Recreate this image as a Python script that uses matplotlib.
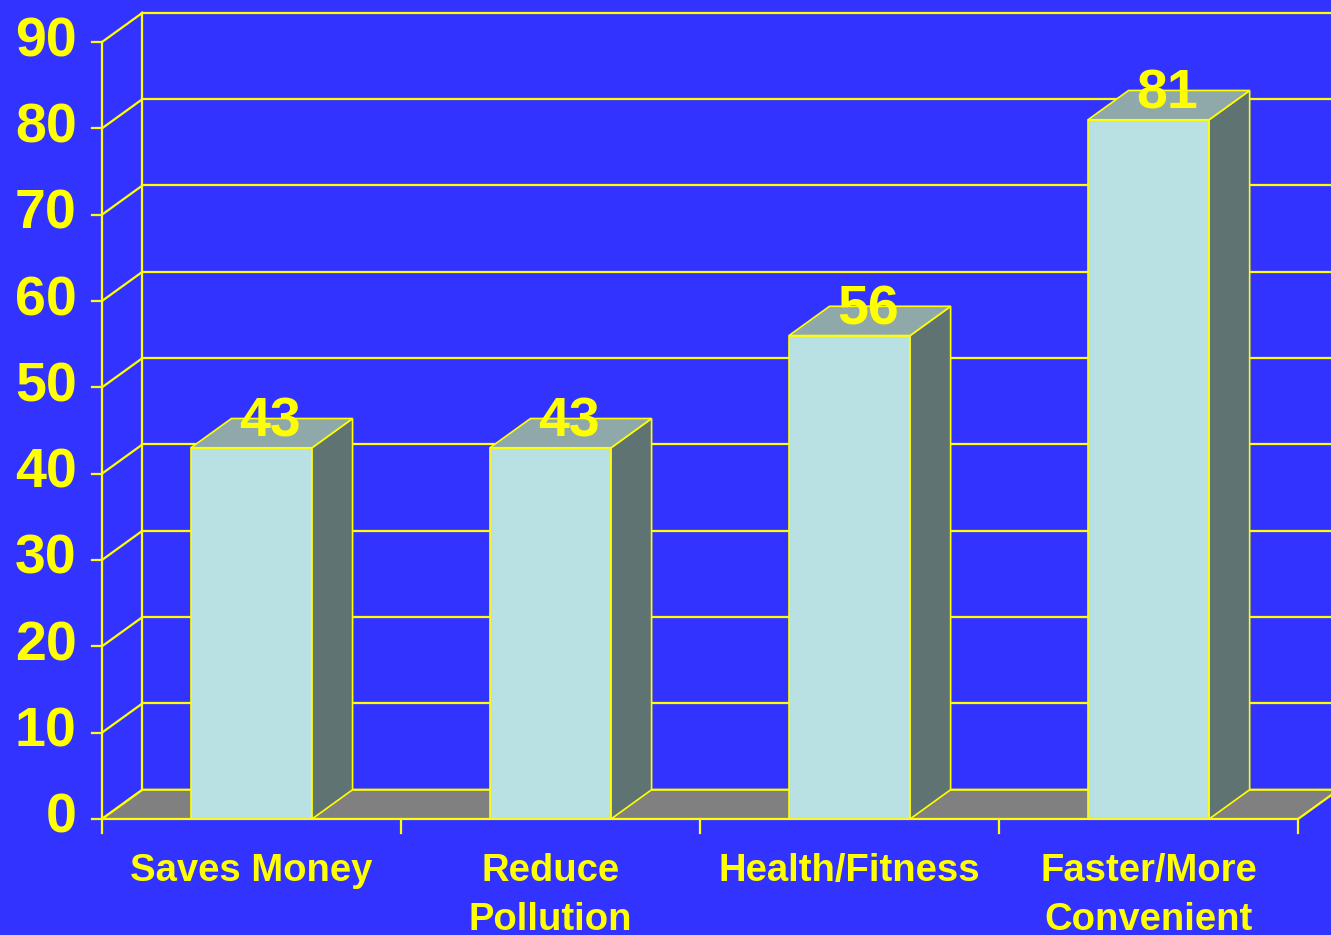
import matplotlib
matplotlib.use("Agg")
import matplotlib.pyplot as plt
from matplotlib.patches import Polygon

# Survey data
categories = ["Saves Money", "Reduce\nPollution", "Health/Fitness", "Faster/More\nConvenient"]
values = [43, 43, 56, 81]
y_ticks = [0, 10, 20, 30, 40, 50, 60, 70, 80, 90]

BG = "#3333FF"
YELLOW = "#FFFF00"
FRONT = "#B9E0E3"
SIDE = "#5F7373"
TOP = "#8FA9AB"
FLOOR = "#808080"
FONT = "Liberation Sans"

fig = plt.figure(figsize=(13.31, 9.35), dpi=100, facecolor=BG)
ax = fig.add_axes([0, 0, 1, 1])
ax.set_facecolor(BG)
ax.set_xlim(-0.341, 4.110)
ax.set_ylim(-13.44, 94.87)
ax.axis("off")

n = len(categories)
ymax = y_ticks[-1]
dx = 0.1355          # depth offset (category units)
dy = 3.39            # depth offset (value units)
bw = 0.405           # bar width
lw = 1.6

# back wall and left wall grid
for v in y_ticks:
    if v > 0:
        ax.plot([dx, 4.3], [v + dy, v + dy], color=YELLOW, lw=lw, zorder=1)
    ax.plot([0, dx], [v, v + dy], color=YELLOW, lw=lw, zorder=1)
    ax.plot([-0.034, 0], [v, v], color=YELLOW, lw=lw, zorder=4)
ax.plot([dx, dx], [dy, ymax + dy], color=YELLOW, lw=lw, zorder=1)
ax.plot([0, 0], [0, ymax], color=YELLOW, lw=lw, zorder=4)

# floor
floor = Polygon([(0, 0), (n, 0), (n + dx, dy), (dx, dy)], closed=True,
                facecolor=FLOOR, edgecolor=YELLOW, lw=lw, zorder=2)
ax.add_patch(floor)
for i in range(n + 1):
    ax.plot([i, i], [0, -1.6], color=YELLOW, lw=lw, zorder=4)

# 3-D bars
for i, v in enumerate(values):
    c = i + 0.5
    x0, x1 = c - bw / 2, c + bw / 2
    front = Polygon([(x0, 0), (x1, 0), (x1, v), (x0, v)], closed=True,
                    facecolor=FRONT, edgecolor=YELLOW, lw=1.2, zorder=3)
    side = Polygon([(x1, 0), (x1 + dx, dy), (x1 + dx, v + dy), (x1, v)], closed=True,
                   facecolor=SIDE, edgecolor=YELLOW, lw=1.2, zorder=3)
    top = Polygon([(x0, v), (x1, v), (x1 + dx, v + dy), (x0 + dx, v + dy)], closed=True,
                  facecolor=TOP, edgecolor=YELLOW, lw=1.2, zorder=3)
    for p in (front, side, top):
        ax.add_patch(p)
    ax.text(c + dx / 2 - 0.005, v + dy - 0.45, f"{v}", color=YELLOW, fontsize=40,
            fontweight="bold", family=FONT, ha="center", va="center", zorder=5)
    ax.text(c, -3.95, categories[i], color=YELLOW, fontsize=27.5, fontweight="bold",
            family=FONT, ha="center", va="top", linespacing=1.45, zorder=5)

# value axis labels
for v in y_ticks:
    ax.text(-0.085, v, f"{v}", color=YELLOW, fontsize=40, fontweight="bold",
            family=FONT, ha="right", va="center", zorder=5)

fig.savefig("out.png", dpi=100, facecolor=BG)
